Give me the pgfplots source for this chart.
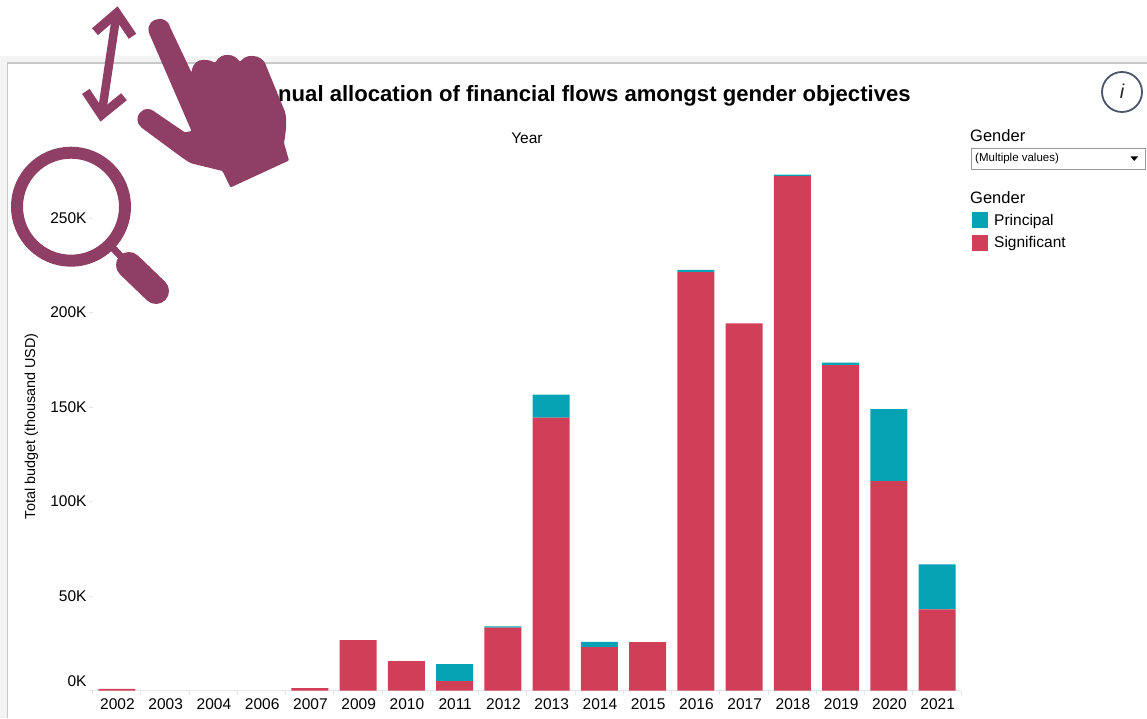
\documentclass[border=0pt]{standalone}
\usepackage{pgfplots}
\pgfplotsset{compat=1.18}
\usepackage{fontspec}
\setmainfont{Liberation Sans}
\definecolor{teal1}{HTML}{05A3B4}
\definecolor{red1}{HTML}{D03F57}
\definecolor{plum}{HTML}{8F3F65}
\definecolor{band}{HTML}{F4F4F4}
\definecolor{frame}{HTML}{C9C9C9}
\definecolor{tickc}{HTML}{E6E6E6}
\definecolor{infoc}{HTML}{4A5568}
\begin{document}
\begin{tikzpicture}[x=1pt,y=1pt]
\path[use as bounding box] (0,0) rectangle (1147,718);
% page frame, y flipped to pixel rows
\begin{scope}[yshift=718pt,y=-1pt]
\fill[band] (0,56) rectangle (1147,63);
\fill[band] (0,56) rectangle (7,718);
\draw[frame,line width=1.4pt] (7.5,718) -- (7.5,63) -- (1147,63);
\end{scope}
\begin{axis}[
  at={(92.7pt,27.5pt)}, anchor=south west,
  scale only axis, width=868.5pt, height=530.5pt,
  ybar stacked, bar width=37pt,
  xmin=-0.5, xmax=17.5, ymin=0, ymax=280.7,
  axis x line=bottom, axis y line=left,
  axis line style={-},
  y axis line style={draw=none},
  x axis line style={draw=tickc,line width=1pt},
  xtick={0,...,17},
  xticklabels={2002,2003,2004,2006,2007,2009,2010,2011,2012,2013,2014,2015,2016,2017,2018,2019,2020,2021},
  xtick style={draw=none},
  extra x ticks={-0.5,0.5,1.5,2.5,3.5,4.5,5.5,6.5,7.5,8.5,9.5,10.5,11.5,12.5,13.5,14.5,15.5,16.5,17.5},
  extra x tick labels={},
  extra x tick style={xtick style={draw=tickc,line width=1pt}},
  ytick={0,50,100,150,200,250},
  yticklabels={\raisebox{19pt}{0K},50K,100K,150K,200K,250K},
  ytick style={draw=tickc,line width=1pt},
  major tick length=4pt,
  tick align=outside,
  ticklabel style={font=\fontsize{15.5}{18}\selectfont,text=black},
  xticklabel style={yshift=-1pt,xshift=0.6pt},
  yticklabel style={xshift=1.3pt},
  ylabel={Total budget (thousand USD)},
  ylabel style={at={(axis description cs:-0.0664,0.498)},anchor=base,rotate=0,font=\fontsize{14.4}{18}\selectfont},
  xlabel={Year},
  xlabel style={at={(axis description cs:0.5,1.032)},anchor=base,font=\fontsize{15.5}{18}\selectfont},
  title={Annual allocation of financial flows amongst gender objectives},
  title style={at={(axis description cs:0.942,1.0992)},anchor=base east,inner sep=0pt,font=\fontsize{22.1}{26}\selectfont\bfseries},
  clip=false,
  reverse legend,
  legend cell align=left,
  legend style={at={(axis description cs:1.0,0.902)},anchor=north west,draw=none,fill=none,
     font=\fontsize{15.5}{18}\selectfont,inner sep=0pt,outer sep=0pt,xshift=11pt,
     row sep=5.6pt,
     /tikz/every even column/.append style={column sep=0pt}},
  legend image code/.code={\fill[#1] (0pt,-8pt) rectangle (16pt,8pt);\path (20pt,0pt);},
]
\addplot[fill=red1,draw=none] coordinates {(0,0.8)(1,0)(2,0)(3,0)(4,1.3)(5,26.7)(6,15.6)(7,5)(8,33.3)(9,144.4)(10,23)(11,25.6)(12,221.4)(13,194.2)(14,272.2)(15,172.2)(16,110.8)(17,42.9)};
\addlegendentry{Significant}
\addplot[fill=teal1,draw=none] coordinates {(0,0)(1,0)(2,0)(3,0)(4,0)(5,0)(6,0)(7,9)(8,0.6)(9,12.2)(10,2.7)(11,0)(12,1.1)(13,0)(14,0.8)(15,1.3)(16,38.1)(17,23.8)};
\addlegendentry{Principal}
\end{axis}
\begin{scope}[yshift=718pt,y=-1pt]
% filter and legend headers
\node[anchor=base west,font=\fontsize{16.5}{18}\selectfont,inner sep=0pt] at (970,142) {Gender};
\node[anchor=base west,font=\fontsize{16.5}{18}\selectfont,inner sep=0pt] at (970,204) {Gender};
\draw[black!40,fill=white,line width=0.8pt] (971.5,148) rectangle (1145,169.5);
\node[anchor=base west,font=\fontsize{11.5}{13}\selectfont,inner sep=0pt] at (975,162) {(Multiple values)};
\fill[black] (1130.5,156.5) -- (1138,156.5) -- (1134.2,161) -- cycle;
% info button
\draw[infoc,line width=1.8pt] (1122,92) circle (20);
\node[font=\fontsize{20}{22}\selectfont\itshape,text=black!85] at (1122,91) {i};
% arrow icon
\draw[plum,line width=8.5pt] (116.7,13) -- (101.5,115);
\draw[plum,line width=9pt,miter limit=10] (95,31.7) -- (116.7,13) -- (132.5,36.3);
\draw[plum,line width=9pt,miter limit=10] (85.8,91.4) -- (101.5,115) -- (124,96.7);
% hand icon
\fill[plum,rounded corners=1pt] (149,33)
  .. controls (147,24) and (153,19) .. (160,19)
  .. controls (165,19) and (169,23) .. (170,27)
  -- (191.5,72.5)
  .. controls (193,62) and (199,60) .. (204,60)
  .. controls (209,60) and (212,61) .. (215,63)
  .. controls (219,56) and (224,55) .. (228,55)
  .. controls (233,55) and (237,58) .. (240,62)
  .. controls (244,57) and (248,56) .. (252,56)
  .. controls (259,56) and (263,60) .. (265,63)
  -- (283,107)
  .. controls (287,115) and (287,125) .. (284,143)
  -- (289,160.5) -- (230.5,187.5) -- (222.5,171) -- (192,163.5)
  .. controls (188,162) and (186,160) .. (184,159)
  -- (142,128)
  .. controls (136,123) and (137,116) .. (140,113)
  .. controls (144,108) and (150,108) .. (155,112)
  -- (185,132.5) -- (191.5,131) -- cycle;
% magnifier icon
\draw[plum,line width=12pt] (71,206.7) circle (54);
\draw[plum,line width=7pt] (112,247) -- (128,264);
\draw[plum,line width=26pt,line cap=round] (129,265) -- (156,291);
\end{scope}
\end{tikzpicture}
\end{document}
